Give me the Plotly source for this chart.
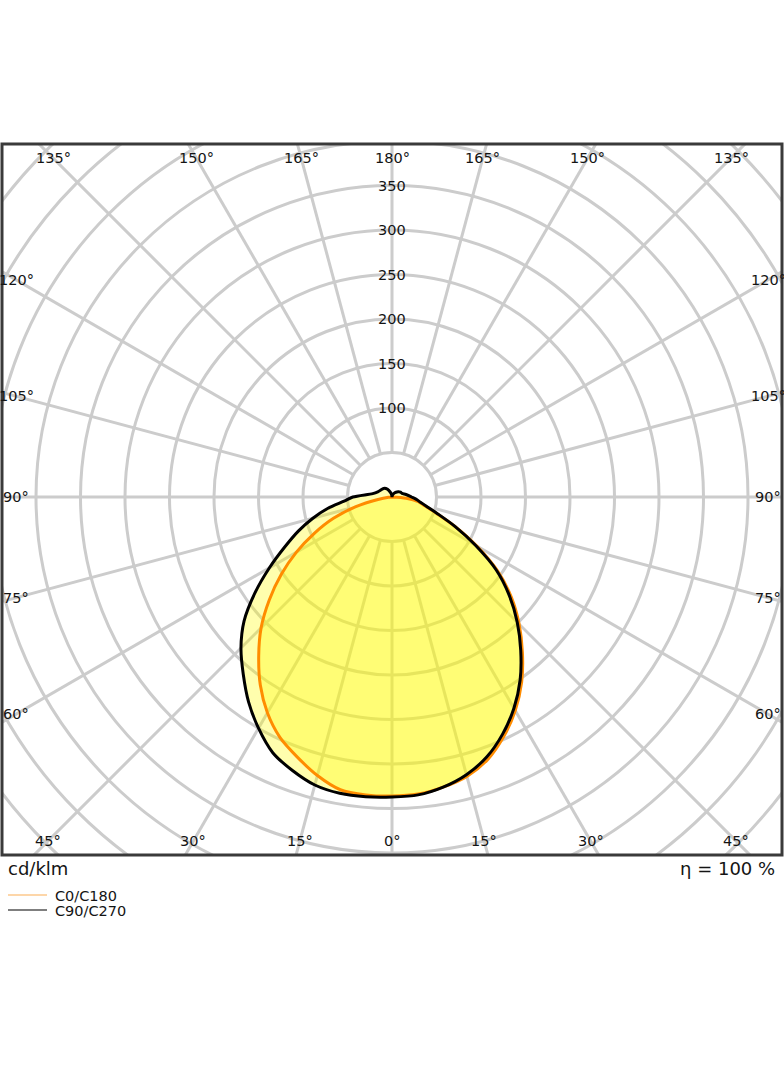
import numpy as np
import plotly.graph_objects as go

# ---------------- data (cd/klm) ----------------
gamma = [0, 5, 10, 15, 20, 25, 30, 35, 40, 45, 50, 55, 60, 65, 70, 75, 80, 85, 90,
         100, 110, 120, 130, 140, 150, 160, 170, 180]
c0 = [336, 335, 331, 325, 314, 297, 277, 254, 228, 202, 175, 145, 110, 78, 53, 38, 30, 16, 0,
      0, 0, 0, 0, 0, 0, 0, 0, 0]
c180 = [336, 336, 334, 324, 311, 298, 280, 258, 233, 208, 180, 152, 124, 96, 70, 42, 16, 4, 0,
        0, 0, 0, 0, 0, 0, 0, 0, 0]
c90 = [337, 336, 331, 323, 311, 294, 274, 251, 225, 199, 172, 143, 108, 78, 54, 40, 32, 27, 22,
       16, 12, 11, 9, 7, 5, 3, 1, 0]
c270 = [337, 338, 338, 335, 327, 317, 300, 281, 260, 240, 217, 188, 159, 133, 112, 92, 73, 54, 44,
        22, 17, 15, 14, 13, 10, 6, 3, 0]

ring_values = [50, 100, 150, 200, 250, 300, 350, 400, 450, 500, 550, 600]
ring_labels = [100, 150, 200, 250, 300, 350]
angle_labels = [0, 15, 30, 45, 60, 75, 90, 105, 120, 135, 150, 165, 180]
series_names = ["C0/C180", "C90/C270"]
unit_text = "cd/klm"
eff_text = "η = 100 %"

# ---------------- geometry ----------------
W, H = 784, 1066
ML, MR, MT, MB = 2, 2, 144, 211
PX = 0.89  # px per cd/klm
XR = (W - ML - MR) / 2 / PX
Y_TOP = (497 - MT) / PX
Y_BOT = (H - MB - 497) / PX

FONT = "DejaVu Sans"
GRID = "#cccccc"
TXT = "#141414"


def half_xy(vals, side):
    g = np.radians(gamma)
    v = np.asarray(vals, dtype=float)
    return side * v * np.sin(g), -v * np.cos(g)


def closed(right, left):
    xr, yr = half_xy(right, 1)
    xl, yl = half_xy(left, -1)
    return np.concatenate([xr, xl[::-1]]), np.concatenate([yr, yl[::-1]])


fig = go.Figure()

x90, y90 = closed(c90, c270)
x0, y0 = closed(c0, c180)

fill_col = "rgba(255,253,0,0.32)"
for xx, yy in ((x90, y90), (x0, y0)):
    fig.add_trace(go.Scatter(x=xx, y=yy, mode="lines", fill="toself", fillcolor=fill_col,
                             line=dict(width=0, shape="spline", smoothing=0.8),
                             hoverinfo="skip", showlegend=False))
fig.add_trace(go.Scatter(x=x0, y=y0, mode="lines", name=series_names[0],
                         line=dict(width=3, color="#ff8c00", shape="spline", smoothing=0.8),
                         showlegend=False))
fig.add_trace(go.Scatter(x=x90, y=y90, mode="lines", name=series_names[1],
                         line=dict(width=3, color="#000000", shape="spline", smoothing=0.8),
                         showlegend=False))

shapes = []
for r in ring_values:
    shapes.append(dict(type="circle", xref="x", yref="y", x0=-r, x1=r, y0=-r, y1=r,
                       line=dict(color=GRID, width=3), layer="below"))
for a in range(0, 360, 15):
    t = np.radians(a)
    r0, r1 = ring_values[0], 800
    shapes.append(dict(type="line", xref="x", yref="y",
                       x0=r0 * np.sin(t), y0=-r0 * np.cos(t),
                       x1=r1 * np.sin(t), y1=-r1 * np.cos(t),
                       line=dict(color=GRID, width=3), layer="below"))
# frame
shapes.append(dict(type="rect", xref="paper", yref="paper", x0=0, x1=1, y0=0, y1=1,
                   line=dict(color="#3a3a3a", width=3), layer="above"))

annotations = []
for r in ring_labels:
    annotations.append(dict(x=0, y=r, xref="x", yref="y", text=str(r), showarrow=False,
                            font=dict(family=FONT, size=14.5, color=TXT),
                            xanchor="center", yanchor="middle"))

inset = 14 / PX
bx0, bx1 = -XR + inset, XR - inset
by0, by1 = -Y_BOT + inset, Y_TOP - inset
for a in angle_labels:
    for side in ([1] if a in (0, 180) else [1, -1]):
        t = np.radians(a)
        dx, dy = side * np.sin(t), -np.cos(t)
        cands = []
        if abs(dx) > 1e-9:
            cands.append((bx1 if dx > 0 else bx0) / dx)
        if abs(dy) > 1e-9:
            cands.append((by1 if dy > 0 else by0) / dy)
        s = min(c for c in cands if c > 0)
        annotations.append(dict(x=s * dx, y=s * dy, xref="x", yref="y", text=f"{a}°",
                                showarrow=False, font=dict(family=FONT, size=14.5, color=TXT),
                                xanchor="center", yanchor="middle"))


def fx(px):
    return (px - ML) / (W - ML - MR)


def fy(py):
    return (H - MB - py) / (H - MT - MB)


annotations.append(dict(x=fx(6), y=fy(868), xref="paper", yref="paper", text=unit_text,
                        showarrow=False, xanchor="left", yanchor="middle",
                        font=dict(family=FONT, size=18, color=TXT)))
annotations.append(dict(x=fx(777), y=fy(868), xref="paper", yref="paper", text=eff_text,
                        showarrow=False, xanchor="right", yanchor="middle",
                        font=dict(family=FONT, size=18, color=TXT)))

leg_cols = ["#fcc88c", "#555555"]
leg_y = [895, 910]
for name, col, yy in zip(series_names, leg_cols, leg_y):
    annotations.append(dict(x=fx(53), y=fy(yy + 1), xref="paper", yref="paper", text=name,
                            showarrow=False, xanchor="left", yanchor="middle",
                            font=dict(family=FONT, size=14.5, color=TXT)))
    shapes.append(dict(type="line", xref="paper", yref="paper",
                       x0=fx(8), x1=fx(47), y0=fy(yy), y1=fy(yy),
                       line=dict(color=col, width=1.5)))

fig.update_layout(
    width=W, height=H,
    margin=dict(l=ML, r=MR, t=MT, b=MB, pad=0),
    paper_bgcolor="white", plot_bgcolor="white",
    xaxis=dict(range=[-XR, XR], visible=False, fixedrange=True),
    yaxis=dict(range=[-Y_BOT, Y_TOP], visible=False, fixedrange=True),
    shapes=shapes, annotations=annotations, showlegend=False,
)

fig.write_html("out.html")
